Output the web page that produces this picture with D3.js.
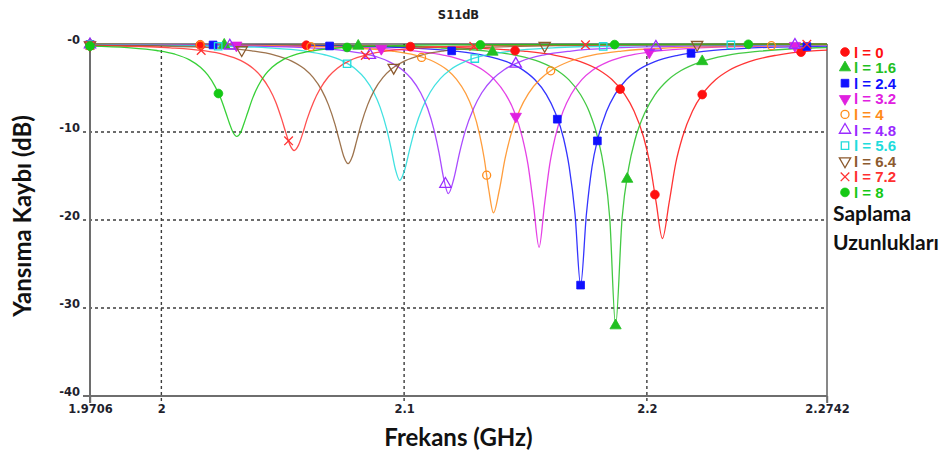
<!DOCTYPE html>
<html>
<head>
<meta charset="utf-8">
<script src="https://cdn.jsdelivr.net/npm/d3@7"></script>
<style>
  body { margin: 0; background: #fff; }
  svg { display: block; }
</style>
</head>
<body>
<svg id="chart" width="946" height="454"></svg>
<script>
// S11 (dB) vs frequency (GHz) for each stub length
const seriesNames = ["l = 0", "l = 1.6", "l = 2.4", "l = 3.2", "l = 4", "l = 4.8", "l = 5.6", "l = 6.4", "l = 7.2", "l = 8"];

const s11_l0 = [[1.9706,-0.05],[2.0504,-0.12],[2.0894,-0.21],[2.1284,-0.46],[2.1492,-0.81],[2.1622,-1.28],[2.1726,-2.00],[2.1804,-2.98],[2.1856,-4.04],[2.1908,-5.70],[2.1947,-7.61],[2.1986,-10.54],[2.2012,-13.53],[2.2038,-17.96],[2.2064,-22.1],[2.2092,-17.96],[2.2119,-13.53],[2.2147,-10.54],[2.2188,-7.61],[2.2229,-5.70],[2.2284,-4.04],[2.2339,-2.98],[2.2422,-2.00],[2.2532,-1.28],[2.2669,-0.81],[2.2742,-0.70]];
const s11_l16 = [[1.9706,-0.05],[2.0431,-0.12],[2.0791,-0.21],[2.1151,-0.45],[2.1343,-0.82],[2.1463,-1.29],[2.1559,-2.02],[2.1631,-3.01],[2.1679,-4.08],[2.1727,-5.77],[2.1763,-7.72],[2.1799,-10.80],[2.1823,-14.08],[2.1847,-19.78],[2.1871,-32.0],[2.1898,-19.78],[2.1925,-14.08],[2.1952,-10.80],[2.1993,-7.72],[2.2033,-5.77],[2.2087,-4.08],[2.2141,-3.01],[2.2222,-2.02],[2.2330,-1.29],[2.2465,-0.82],[2.2742,-0.40]];
const s11_l24 = [[1.9706,-0.06],[2.0317,-0.12],[2.0670,-0.21],[2.1022,-0.45],[2.1210,-0.81],[2.1328,-1.29],[2.1422,-2.01],[2.1492,-3.00],[2.1539,-4.07],[2.1586,-5.75],[2.1621,-7.70],[2.1657,-10.74],[2.1680,-13.96],[2.1704,-19.32],[2.1727,-27.4],[2.1751,-19.32],[2.1774,-13.96],[2.1798,-10.74],[2.1833,-7.70],[2.1868,-5.75],[2.1915,-4.07],[2.1962,-3.00],[2.2033,-2.01],[2.2127,-1.29],[2.2244,-0.81],[2.2432,-0.45],[2.2742,-0.23]];
const s11_l32 = [[1.9706,-0.07],[2.0176,-0.12],[2.0521,-0.21],[2.0866,-0.45],[2.1050,-0.81],[2.1165,-1.28],[2.1257,-2.01],[2.1326,-2.99],[2.1372,-4.05],[2.1418,-5.71],[2.1453,-7.63],[2.1487,-10.60],[2.1510,-13.65],[2.1533,-18.31],[2.1556,-23.1],[2.1578,-18.31],[2.1600,-13.65],[2.1622,-10.60],[2.1655,-7.63],[2.1688,-5.71],[2.1732,-4.05],[2.1776,-2.99],[2.1842,-2.01],[2.1930,-1.28],[2.2040,-0.81],[2.2216,-0.45],[2.2546,-0.21],[2.2742,-0.15]];
const s11_l4 = [[1.9706,-0.06],[2.0228,-0.12],[2.0513,-0.21],[2.0798,-0.45],[2.0950,-0.80],[2.1045,-1.27],[2.1121,-1.99],[2.1178,-2.96],[2.1216,-4.01],[2.1254,-5.63],[2.1283,-7.49],[2.1311,-10.29],[2.1330,-13.01],[2.1349,-16.62],[2.1368,-19.2],[2.1392,-16.62],[2.1416,-13.01],[2.1440,-10.29],[2.1476,-7.49],[2.1512,-5.63],[2.1560,-4.01],[2.1608,-2.96],[2.1680,-1.99],[2.1776,-1.27],[2.1896,-0.80],[2.2088,-0.45],[2.2448,-0.21],[2.2742,-0.13]];
const s11_l48 = [[1.9706,-0.07],[2.0042,-0.12],[2.0327,-0.21],[2.0612,-0.45],[2.0764,-0.80],[2.0859,-1.26],[2.0935,-1.97],[2.0992,-2.92],[2.1030,-3.95],[2.1068,-5.54],[2.1097,-7.33],[2.1125,-9.96],[2.1144,-12.39],[2.1163,-15.28],[2.1182,-17.0],[2.1205,-15.28],[2.1228,-12.39],[2.1251,-9.96],[2.1286,-7.33],[2.1320,-5.54],[2.1366,-3.95],[2.1412,-2.92],[2.1481,-1.97],[2.1573,-1.26],[2.1688,-0.80],[2.1872,-0.45],[2.2217,-0.21],[2.2562,-0.12],[2.2742,-0.09]];
const s11_l56 = [[1.9706,-0.09],[1.9902,-0.12],[2.0172,-0.20],[2.0442,-0.44],[2.0586,-0.79],[2.0676,-1.25],[2.0748,-1.95],[2.0802,-2.89],[2.0838,-3.90],[2.0874,-5.45],[2.0901,-7.17],[2.0928,-9.65],[2.0946,-11.83],[2.0964,-14.23],[2.0982,-15.5],[2.1003,-14.23],[2.1024,-11.83],[2.1045,-9.65],[2.1077,-7.17],[2.1108,-5.45],[2.1150,-3.90],[2.1192,-2.89],[2.1255,-1.95],[2.1339,-1.25],[2.1444,-0.79],[2.1612,-0.44],[2.1927,-0.20],[2.2242,-0.12],[2.2742,-0.06]];
const s11_l64 = [[1.9706,-0.12],[1.9959,-0.20],[2.0229,-0.44],[2.0373,-0.78],[2.0463,-1.23],[2.0535,-1.91],[2.0589,-2.82],[2.0625,-3.80],[2.0661,-5.27],[2.0688,-6.89],[2.0715,-9.11],[2.0733,-10.95],[2.0751,-12.75],[2.0769,-13.6],[2.0787,-12.75],[2.0805,-10.95],[2.0823,-9.11],[2.0850,-6.89],[2.0877,-5.27],[2.0913,-3.80],[2.0949,-2.82],[2.1003,-1.91],[2.1075,-1.23],[2.1165,-0.78],[2.1309,-0.44],[2.1579,-0.20],[2.1849,-0.12],[2.2742,-0.04]];
const s11_l72 = [[1.9706,-0.16],[1.9782,-0.20],[2.0037,-0.43],[2.0173,-0.76],[2.0258,-1.20],[2.0326,-1.86],[2.0377,-2.75],[2.0411,-3.69],[2.0445,-5.09],[2.0471,-6.58],[2.0496,-8.57],[2.0513,-10.10],[2.0530,-11.49],[2.0547,-12.1],[2.0565,-11.49],[2.0583,-10.10],[2.0600,-8.57],[2.0627,-6.58],[2.0654,-5.09],[2.0689,-3.69],[2.0725,-2.75],[2.0778,-1.86],[2.0850,-1.20],[2.0939,-0.76],[2.1081,-0.43],[2.1348,-0.20],[2.1615,-0.11],[2.2742,-0.03]];
const s11_l8 = [[1.9706,-0.24],[1.9861,-0.41],[1.9981,-0.74],[2.0056,-1.16],[2.0116,-1.80],[2.0161,-2.64],[2.0191,-3.52],[2.0221,-4.81],[2.0244,-6.15],[2.0266,-7.84],[2.0281,-9.06],[2.0296,-10.08],[2.0311,-10.5],[2.0326,-10.08],[2.0340,-9.06],[2.0355,-7.84],[2.0376,-6.15],[2.0398,-4.81],[2.0427,-3.52],[2.0456,-2.64],[2.0500,-1.80],[2.0558,-1.16],[2.0630,-0.74],[2.0746,-0.41],[2.0964,-0.19],[2.1181,-0.11],[2.2742,-0.01]];

// frequencies (GHz) where each trace carries a marker
const markers_l0 = [1.9706, 2.0160, 2.0597, 2.1026, 2.1457, 2.1890, 2.2033, 2.2228, 2.2635];
const markers_l16 = [1.9706, 2.0259, 2.0811, 2.1364, 2.1871, 2.1919, 2.2228];
const markers_l24 = [1.9706, 2.0213, 2.0693, 2.1196, 2.1631, 2.1727, 2.1796, 2.2182, 2.2659];
const markers_l32 = [1.9706, 2.0309, 2.0906, 2.1460, 2.2010, 2.2610];
const markers_l4 = [1.9706, 2.0160, 2.0616, 2.1072, 2.1340, 2.1604, 2.2513];
const markers_l48 = [1.9706, 2.0282, 2.0859, 2.1170, 2.1460, 2.2037, 2.2610];
const markers_l56 = [1.9706, 2.0234, 2.0765, 2.1291, 2.1820, 2.2346];
const markers_l64 = [1.9706, 2.0331, 2.0957, 2.1579, 2.2207];
const markers_l72 = [1.9706, 2.0164, 2.0524, 2.0840, 2.1287, 2.1747, 2.2659];
const markers_l8 = [1.9706, 2.0235, 2.0765, 2.1314, 2.1867, 2.2418];

const freqTicks = [1.9706, 2, 2.1, 2.2, 2.2742];
const freqTickLabels = ["1.9706", "2", "2.1", "2.2", "2.2742"];
const dbTicks = [0, -10, -20, -30, -40];
const dbTickLabels = ["-0", "-10", "-20", "-30", "-40"];

const traces = [s11_l0, s11_l16, s11_l24, s11_l32, s11_l4, s11_l48, s11_l56, s11_l64, s11_l72, s11_l8];
const traceMarkers = [markers_l0, markers_l16, markers_l24, markers_l32, markers_l4, markers_l48, markers_l56, markers_l64, markers_l72, markers_l8];

// styling
const colors = ["#ff1010", "#22c022", "#1010ff", "#e020e0", "#ff8c1a", "#9a2bff", "#20dcdc", "#8c5a2e", "#ff3030", "#14c814"];
const symbolTimes = d3.symbolTimes || d3.symbolX;
const symbolStyle = [
    {type: d3.symbolCircle, filled: true, rot: 0, size: 60},
    {type: d3.symbolTriangle, filled: true, rot: 0, size: 55},
    {type: d3.symbolSquare, filled: true, rot: 0, size: 60},
    {type: d3.symbolTriangle, filled: true, rot: 180, size: 55},
    {type: d3.symbolCircle, filled: false, rot: 0, size: 50},
    {type: d3.symbolTriangle, filled: false, rot: 0, size: 55},
    {type: d3.symbolSquare, filled: false, rot: 0, size: 55},
    {type: d3.symbolTriangle, filled: false, rot: 180, size: 55},
    {type: symbolTimes, filled: false, rot: 0, size: 50},
    {type: d3.symbolCircle, filled: true, rot: 0, size: 60}
];

const margin = {left: 90, right: 119, top: 44, bottom: 58};
const W = 946, H = 454;
const svg = d3.select("#chart");

const x = d3.scaleLinear().domain([1.9706, 2.2742]).range([margin.left, W - margin.right]);
const y = d3.scaleLinear().domain([-40, 0]).range([H - margin.bottom, margin.top]);

const tickFont = "'DejaVu Sans', Verdana, sans-serif";
const titleFont = "Lato, 'Open Sans', sans-serif";

// title
svg.append("text")
    .attr("x", (x.range()[0] + x.range()[1]) / 2)
    .attr("y", 19)
    .attr("text-anchor", "middle")
    .style("font-family", tickFont)
    .style("font-weight", "bold")
    .style("font-size", "11.5px")
    .style("fill", "#222")
    .text("S11dB");

// grid
const grid = svg.append("g").attr("class", "grid");
grid.selectAll("line.h")
    .data([-10, -20, -30])
    .enter().append("line")
    .attr("x1", margin.left - 7).attr("x2", x.range()[1])
    .attr("y1", d => y(d)).attr("y2", d => y(d))
    .style("stroke", "#3c3c3c").style("stroke-width", 1.4)
    .style("stroke-dasharray", "3,3");
grid.selectAll("line.v")
    .data([2, 2.1, 2.2])
    .enter().append("line")
    .attr("x1", d => x(d)).attr("x2", d => x(d))
    .attr("y1", margin.top).attr("y2", y(-40) + 7)
    .style("stroke", "#3c3c3c").style("stroke-width", 1.4)
    .style("stroke-dasharray", "3,3");

// frame
svg.append("line")
    .attr("x1", x.range()[0]).attr("x2", x.range()[1])
    .attr("y1", margin.top).attr("y2", margin.top)
    .style("stroke", "#111").style("stroke-width", 1);
svg.append("line")
    .attr("x1", x.range()[1]).attr("x2", x.range()[1])
    .attr("y1", margin.top).attr("y2", y(-40) + 7)
    .style("stroke", "#111").style("stroke-width", 1);

// axes
const yAxis = d3.axisLeft(y)
    .tickValues(dbTicks)
    .tickSize(7)
    .tickPadding(3)
    .tickFormat((d, i) => dbTickLabels[i]);
const gy = svg.append("g").attr("transform", `translate(${margin.left},0)`).call(yAxis);

const xAxis = d3.axisBottom(x)
    .tickValues(freqTicks)
    .tickSize(7)
    .tickPadding(2)
    .tickFormat((d, i) => freqTickLabels[i]);
const gx = svg.append("g").attr("transform", `translate(0,${y(-40)})`).call(xAxis);

[gx, gy].forEach(g => {
    g.select(".domain").style("stroke", "#6e6e6e").style("stroke-width", 2);
    g.selectAll(".tick line").style("stroke", "#6e6e6e").style("stroke-width", 1.4);
    g.selectAll(".tick text")
        .style("font-family", tickFont)
        .style("font-weight", "bold")
        .style("font-size", "11.5px")
        .style("fill", "#1f1f2e");
});
gy.select(".domain").attr("d", `M0,${margin.top}V${y(-40) + 7}`);
gy.selectAll(".tick line").style("stroke", "none");
gy.selectAll(".tick text").attr("dy", "-0.05em");
gx.select(".domain").attr("d", `M${margin.left - 7},0H${x.range()[1]}`);
gx.selectAll(".tick line").filter(d => d === 2 || d === 2.1 || d === 2.2).style("stroke", "none");

// axis titles
svg.append("text")
    .attr("x", (x.range()[0] + x.range()[1]) / 2)
    .attr("y", 446)
    .attr("text-anchor", "middle")
    .style("font-family", titleFont)
    .style("font-weight", "bold")
    .style("font-size", "24px")
    .style("fill", "#111")
    .text("Frekans (GHz)");

svg.append("text")
    .attr("transform", "translate(31,216) rotate(-90)")
    .attr("text-anchor", "middle")
    .style("font-family", titleFont)
    .style("font-weight", "bold")
    .style("font-size", "24px")
    .style("fill", "#111")
    .text("Yansıma Kaybı (dB)");

// traces
svg.append("clipPath").attr("id", "plotClip")
    .append("rect")
    .attr("x", x.range()[0]).attr("y", margin.top - 2)
    .attr("width", x.range()[1] - x.range()[0]).attr("height", y(-40) - margin.top + 2);

const line = d3.line()
    .x(d => x(d[0]))
    .y(d => y(d[1]))
    .curve(d3.curveMonotoneX);

const plot = svg.append("g").attr("clip-path", "url(#plotClip)");
plot.selectAll("path.trace")
    .data(traces)
    .enter().append("path")
    .attr("class", "trace")
    .attr("d", line)
    .style("fill", "none")
    .style("stroke", (d, i) => colors[i])
    .style("stroke-width", 1.3)
    .style("stroke-opacity", 0.85);

function dbAt(data, f) {
    const i = d3.bisector(d => d[0]).left(data, f);
    if (i <= 0) return data[0][1];
    if (i >= data.length) return data[data.length - 1][1];
    const a = data[i - 1], b = data[i];
    const t = (f - a[0]) / (b[0] - a[0]);
    return a[1] + t * (b[1] - a[1]);
}

function drawSymbol(g, i, cx, cy) {
    const st = symbolStyle[i];
    g.append("path")
        .attr("d", d3.symbol().type(st.type).size(st.size)())
        .attr("transform", `translate(${cx},${cy}) rotate(${st.rot})`)
        .style("fill", st.filled ? colors[i] : "none")
        .style("stroke", colors[i])
        .style("stroke-width", st.filled ? 0.8 : 1.3);
}

const markerLayer = svg.append("g");
traces.forEach((data, i) => {
    traceMarkers[i].forEach(f => {
        drawSymbol(markerLayer, i, x(f), y(dbAt(data, f)));
    });
});

// legend
const legend = svg.append("g").attr("transform", "translate(845,52)");
seriesNames.forEach((name, i) => {
    const row = legend.append("g").attr("transform", `translate(0,${i * 15.6})`);
    drawSymbol(row, i, 0, 0);
    row.append("text")
        .attr("x", 9)
        .attr("y", 5.5)
        .style("font-family", "'Liberation Sans', Arial, sans-serif")
        .style("font-weight", "bold")
        .style("font-size", "15px")
        .style("fill", colors[i])
        .text(name);
});

svg.append("text")
    .attr("x", 833).attr("y", 221)
    .style("font-family", titleFont)
    .style("font-weight", "bold")
    .style("font-size", "21px")
    .style("fill", "#111")
    .text("Saplama");
svg.append("text")
    .attr("x", 833).attr("y", 250)
    .style("font-family", titleFont)
    .style("font-weight", "bold")
    .style("font-size", "21px")
    .style("fill", "#111")
    .text("Uzunlukları");
</script>
</body>
</html>
